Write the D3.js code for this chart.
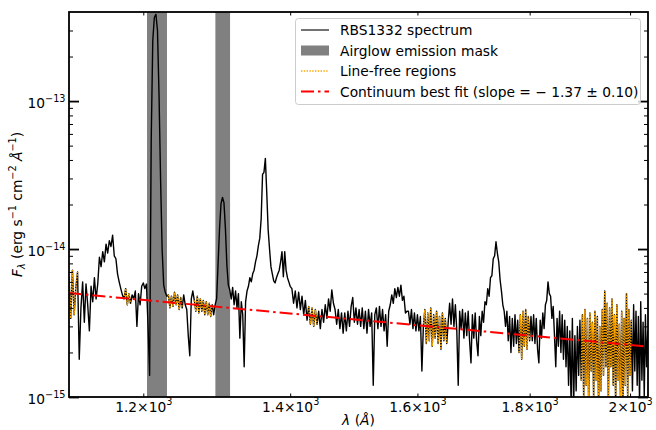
<!DOCTYPE html>
<html><head><meta charset="utf-8">
<script src="https://cdn.jsdelivr.net/npm/d3@7"></script>
<style>body{margin:0;background:#fff} text{font-family:"DejaVu Sans",sans-serif}</style>
</head><body><svg id="c" width="656" height="430"></svg>
<script>
// ---------------- data ----------------
const fluxUnit = 1e-15;               // flux arrays are in units of 1e-15 erg/s/cm2/A
const waveBlueStart = 1110, waveBlueStep = 2;
const fluxBlue = [
6.5,3.4,7.2,3.6,5.5,7.0,1.8,4.0,6.0,3.2, 5.8,4.2,2.8,5.6,4.4,6.4,4.6,5.8,8.8,7.6,
9.6,8.2,10.8,9.4,11.4,10.4,12.4,9.0,8.6,6.8, 6.0,5.4,4.9,4.6,5.4,4.2,5.0,4.3,4.9,4.6,
5.2,3.0,5.0,4.2,5.6,5.9,5.4,5.8,3.0,1.4, 54,257,367,386,300,109,29,9.8,5.7,5.1,
4.8,4.9,4.0,4.8,4.1,5.1,4.2,4.9,3.9,4.7, 4.0,4.9,4.2,3.9,2.6,1.9,4.6,5.2,4.5,3.8,
4.8,3.7,4.6,3.8,4.5,3.6,4.4,3.6,4.3,3.5, 4.2,3.6,4.2,4.6,8.0,13.8,20.3,22.3,20.6,13.8,
7.8,5.7,5.3,4.6,5.5,4.2,5.2,4.0,5.0,2.5, 4.4,3.6,1.6,4.4,5.2,5.6,6.4,6.0,6.8,7.2,
8.2,9.0,10.5,11.8,16,32,33,41,24,13.5, 10.0,7.6,6.8,6.1,5.9,6.4,6.8,7.2,8.2,9.6,
6.5,9.6,7.2,6.4,6.0,5.6
];
const waveRedStart = 1402.5, waveRedStep = 2.5;
const fluxRed = [
5.4,4.3,5.2,4.0,5.1,3.9,4.8,3.6,4.5,3.3, 4.1,3.1,4.0,3.0,3.9,3.1,3.8,2.9,3.9,3.2,
4.2,3.4,4.6,3.8,5.3,4.3,3.9,3.1,3.9,2.9, 3.7,2.7,3.7,2.8,3.8,3.0,4.1,4.7,3.2,4.0,
3.1,3.9,3.0,4.0,2.9,3.8,2.7,3.9,3.0,3.7, 1.2,3.6,4.0,2.9,4.1,3.0,3.9,2.8,3.6,2.2,
3.8,4.2,4.9,4.3,5.4,4.7,5.5,4.8,5.7,4.5, 4.8,3.7,3.8,3.8,3.1,3.9,2.9,3.7,2.8,3.6,
2.8,3.5,1.5,3.0,3.9,2.3,3.7,2.4,4.0,2.2, 3.6,2.5,3.8,2.3,3.5,2.1,3.7,2.4,3.4,2.3,
3.2,4.3,3.1,4.6,3.0,4.2,2.8,1.2,3.8,2.9, 3.9,2.5,3.7,2.6,3.8,2.4,1.7,3.6,2.5,3.7,
2.4,1.9,3.5,2.6,3.8,3.2,4.4,4.2,5.4,4.8, 6.4,6.6,8.6,9.0,11.2,9.4,8.2,6.2,5.2,4.2,
3.8,3.0,3.8,2.4,3.5,2.0,3.4,2.2,3.6,2.3, 3.3,2.0,3.6,1.8,3.8,2.2,3.9,2.1,3.5,2.4,
3.5,2.4,3.6,2.3,3.4,2.1,1.7,3.3,2.5,3.7, 2.9,4.2,4.5,6.0,5.0,4.8,3.4,4.1,2.6,1.6,
3.4,2.2,3.8,2.0,3.6,1.8,3.3,1.6,3.0,1.2, 2.8,0.9,3.4,0.85,2.6,1.1,3.0,1.4,3.3,1.3,
3.6,1.0,3.9,1.2,3.4,0.9,3.7,1.5,3.2,1.0, 3.8,1.3,3.5,0.9,3.0,1.1,3.9,1.4,5.2,1.6,
4.3,0.95,4.0,1.6,4.6,1.2,3.6,0.9,4.2,1.3, 3.1,1.0,3.8,0.8,3.4,1.2,5.0,1.0,3.9,1.4,
3.3,1.1,4.2,1.5,3.8,1.2,3.5,0.9,4.4,1.3, 3.2,1.0,3.6,1.6,2.8
];
const airglowMasks = [[1204.7, 1230.2], [1294.3, 1314.4]];
const lineFreeRegions = [[1110,1121],[1175,1185],[1231,1250],[1266,1290],[1427,1441],[1609,1650],[1779,1801],[1900,2004]];
const contPivot = 1110, contNorm = 5.04e-15, contSlope = -1.37, contSlopeErr = 0.10;
const xDomain = [1110, 2038], yDomain = [1e-15, 4e-13];
const xTickValues = [1200, 1400, 1600, 1800, 2000];
const xTickMant = ["1.2", "1.4", "1.6", "1.8", "2"];
const yMajor = [1e-15, 1e-14, 1e-13];
const yMajorExp = ["\u221215", "\u221214", "\u221213"];
const yMinor = [2,3,4,5,6,7,8,9].flatMap(k => [k*1e-15, k*1e-14, k*1e-13]).filter(v => v < 4e-13);
const legendLabels = ["RBS1332 spectrum", "Airglow emission mask", "Line-free regions",
  "Continuum best fit (slope = \u2212 1.37 \u00b1 0.10)"];

// ---------------- build ----------------
const spectrum = [];
fluxBlue.forEach((f,i) => spectrum.push({w: waveBlueStart + waveBlueStep*i, f: f*fluxUnit}));
fluxRed.forEach((f,i) => spectrum.push({w: waveRedStart + waveRedStep*i, f: f*fluxUnit}));

const L = 69, R = 648, T = 12, B = 397;
const FS = 13.8;
const svg = d3.select("#c");
svg.append("rect").attr("width",656).attr("height",430).attr("fill","#fff");
const x = d3.scaleLog().domain(xDomain).range([L, R]);
const y = d3.scaleLog().domain(yDomain).range([B, T]);

svg.append("clipPath").attr("id","clip").append("rect")
  .attr("x",L).attr("y",T).attr("width",R-L).attr("height",B-T);
const plot = svg.append("g").attr("clip-path","url(#clip)");

// masks
plot.selectAll("rect.mask").data(airglowMasks).join("rect").attr("class","mask")
  .attr("x", d => x(d[0])).attr("width", d => x(d[1]) - x(d[0]))
  .attr("y", T).attr("height", B - T).attr("fill", "#808080");

const line = d3.line().x(d => x(d.w)).y(d => y(d.f));
plot.append("path").datum(spectrum).attr("d", line)
  .attr("fill","none").attr("stroke","#000").attr("stroke-width",1.4).attr("stroke-linejoin","round");

lineFreeRegions.forEach(([a,b]) => {
  const seg = spectrum.filter(d => d.w >= a && d.w <= b);
  plot.append("path").datum(seg).attr("d", line)
    .attr("fill","none").attr("stroke","#FFA500").attr("stroke-width",1.5)
    .attr("stroke-dasharray","1.5,1.3");
});

const contLine = xDomain.map(w => ({w, f: contNorm * Math.pow(w/contPivot, contSlope)}));
plot.append("path").datum(contLine).attr("d", line)
  .attr("fill","none").attr("stroke","#ff0000").attr("stroke-width",2)
  .attr("stroke-dasharray","13,4,2.5,4");

// axes (inward ticks)
function styleAxis(g, w) {
  g.select(".domain").remove();
  g.selectAll(".tick line").attr("stroke","#000").attr("stroke-width", w);
  g.selectAll(".tick text").remove();
}
svg.append("g").attr("transform",`translate(${L},0)`)
  .call(d3.axisLeft(y).tickValues(yMinor).tickSize(-4).tickFormat("")).call(g => styleAxis(g,1));
svg.append("g").attr("transform",`translate(${R},0)`)
  .call(d3.axisRight(y).tickValues(yMinor).tickSize(-4).tickFormat("")).call(g => styleAxis(g,1));
svg.append("g").attr("transform",`translate(${R},0)`)
  .call(d3.axisRight(y).tickValues(yMajor).tickSize(-10).tickFormat("")).call(g => styleAxis(g,1.8));
const gyl = svg.append("g").attr("transform",`translate(${L},0)`)
  .call(d3.axisLeft(y).tickValues(yMajor).tickSize(-10).tickFormat("")).call(g => styleAxis(g,1.8));
gyl.selectAll(".tick").append("text")
  .attr("x",-3.5).attr("y",6.5).attr("text-anchor","end").attr("font-size",FS).attr("fill","#000")
  .each(function(d,i){
    const t = d3.select(this);
    t.append("tspan").text("10");
    t.append("tspan").attr("dy",-6.5).attr("font-size",FS*0.7).text(yMajorExp[i]);
  });
const gxb = svg.append("g").attr("transform",`translate(0,${B})`)
  .call(d3.axisBottom(x).tickValues(xTickValues).tickSize(-3.5).tickFormat("")).call(g => styleAxis(g,1));
svg.append("g").attr("transform",`translate(0,${T})`)
  .call(d3.axisTop(x).tickValues(xTickValues).tickSize(-3.5).tickFormat("")).call(g => styleAxis(g,1));
gxb.selectAll(".tick").append("text")
  .attr("y",14.5).attr("text-anchor","middle").attr("font-size",FS).attr("fill","#000")
  .each(function(d,i){
    const t = d3.select(this);
    t.append("tspan").text(xTickMant[i] + "\u00d710");
    t.append("tspan").attr("dy",-6.5).attr("font-size",FS*0.7).text("3");
  });

// frame
svg.append("rect").attr("x",L).attr("y",T).attr("width",R-L).attr("height",B-T)
  .attr("fill","none").attr("stroke","#000").attr("stroke-width",1.8);

// axis labels
const xl = svg.append("text").attr("x",(L+R)/2).attr("y",425).attr("text-anchor","middle").attr("font-size",FS);
xl.append("tspan").attr("font-style","italic").text("\u03bb");
xl.append("tspan").text(" (");
xl.append("tspan").attr("font-style","italic").text("\u00c5");
xl.append("tspan").text(")");

const yl = svg.append("text").attr("transform",`translate(22,${(T+B)/2}) rotate(-90)`)
  .attr("text-anchor","middle").attr("font-size",FS);
yl.append("tspan").attr("font-style","italic").text("F");
yl.append("tspan").attr("font-style","italic").attr("font-size",FS*0.7).attr("dy",3).text("\u03bb");
yl.append("tspan").attr("dy",-3).text(" (erg s");
yl.append("tspan").attr("font-size",FS*0.7).attr("dy",-6).text("\u22121");
yl.append("tspan").attr("dy",6).text(" cm");
yl.append("tspan").attr("font-size",FS*0.7).attr("dy",-6).text("\u22122");
yl.append("tspan").attr("dy",6).attr("font-style","italic").text(" \u00c5");
yl.append("tspan").attr("font-size",FS*0.7).attr("dy",-6).text("\u22121");
yl.append("tspan").attr("dy",6).text(")");

// legend
const lg = svg.append("g");
lg.append("rect").attr("x",295.5).attr("y",18.5).attr("width",345).attr("height",86).attr("rx",3)
  .attr("fill","#fff").attr("fill-opacity",0.8).attr("stroke","#cccccc").attr("stroke-width",1);
const rowY = [30, 50.5, 71, 91.5];
lg.append("line").attr("x1",301).attr("x2",329).attr("y1",rowY[0]).attr("y2",rowY[0])
  .attr("stroke","#000").attr("stroke-width",1.1);
lg.append("rect").attr("x",301).attr("y",rowY[1]-5).attr("width",28).attr("height",10).attr("fill","#808080");
lg.append("line").attr("x1",301).attr("x2",329).attr("y1",rowY[2]).attr("y2",rowY[2])
  .attr("stroke","#FFA500").attr("stroke-width",1.4).attr("stroke-dasharray","1.4,1.4");
lg.append("line").attr("x1",301).attr("x2",329).attr("y1",rowY[3]).attr("y2",rowY[3])
  .attr("stroke","#ff0000").attr("stroke-width",2).attr("stroke-dasharray","13,4,2.5,4");
lg.selectAll("text.lab").data(legendLabels).join("text").attr("class","lab")
  .attr("x",340).attr("y",(d,i)=>rowY[i]+5).attr("font-size",FS).attr("fill","#000").text(d=>d);
</script></body></html>
